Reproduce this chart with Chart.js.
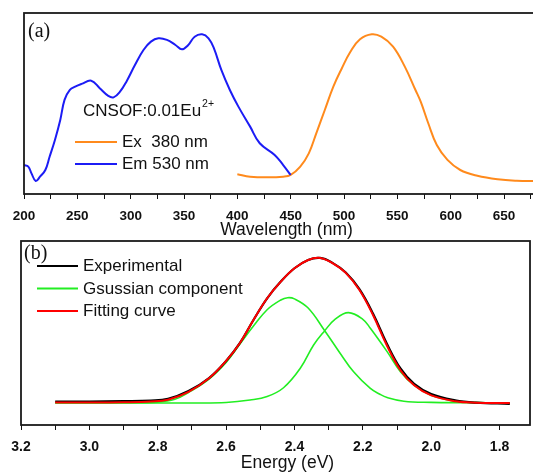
<!DOCTYPE html>
<html><head><meta charset="utf-8">
<script src="https://cdn.jsdelivr.net/npm/chart.js@4.4.1/dist/chart.umd.min.js"></script>
<style>
html,body{margin:0;padding:0;background:#fff;overflow:hidden;width:533px;height:472px;}
#c1{position:absolute;left:0;top:0;}
#c2{position:absolute;left:0;top:240px;}
</style></head><body>
<canvas id="c1" width="540" height="240"></canvas>
<canvas id="c2" width="533" height="232"></canvas>
<script>
// ---------- Panel (a) data ----------
const sampleName = 'CNSOF:0.01Eu';
const sampleSup = '2+';
const exLabel = 'Ex  380 nm';
const emLabel = 'Em 530 nm';
const wavelengthTitle = 'Wavelength (nm)';
const exWavelength = [400,412,428,443,450,459,467,474,482,490,498,506,515,526,535,546,557,567,572,579,587,597,609,625,644,662,680];
const exIntensity  = [0.123,0.108,0.104,0.108,0.119,0.171,0.254,0.379,0.525,0.671,0.786,0.889,0.967,0.998,0.983,0.921,0.796,0.650,0.575,0.442,0.306,0.213,0.150,0.114,0.092,0.083,0.081];
const emWavelength = [200,204,207,211,215,220,224,229,234,238,243,248,254,263,271,279,284,290,296,304,312,319,326,334,342,348,354,360,367,373,378,385,393,401,412,421,435,443,450];
const emIntensity  = [0.181,0.171,0.129,0.081,0.108,0.150,0.233,0.338,0.463,0.588,0.650,0.671,0.688,0.708,0.661,0.613,0.604,0.639,0.702,0.806,0.900,0.952,0.973,0.963,0.931,0.904,0.931,0.983,0.998,0.973,0.911,0.775,0.650,0.546,0.421,0.317,0.244,0.181,0.119];

// ---------- Panel (b) data ----------
const expLabel = 'Experimental';
const gaussLabel = 'Gsussian component';
const fitLabel = 'Fitting curve';
const energyTitle = 'Energy (eV)';
const expEnergy    = [3.10,3.00,2.90,2.82,2.77,2.71,2.65,2.60,2.56,2.52,2.48,2.44,2.40,2.36,2.325,2.29,2.25,2.21,2.17,2.13,2.09,2.05,2.00,1.93,1.87,1.77];
const expIntensity = [0.010,0.010,0.012,0.016,0.028,0.082,0.172,0.290,0.412,0.572,0.722,0.837,0.929,0.986,1.000,0.968,0.900,0.785,0.615,0.410,0.238,0.132,0.062,0.018,0.002,-0.006];
const fitIntensity = [0.003,0.003,0.005,0.010,0.022,0.076,0.170,0.290,0.412,0.572,0.722,0.837,0.929,0.986,1.000,0.966,0.897,0.779,0.605,0.398,0.226,0.122,0.052,0.012,0.002,0.000];
const g1Energy     = [3.10,2.90,2.80,2.75,2.71,2.65,2.60,2.56,2.52,2.48,2.44,2.42,2.40,2.36,2.312,2.267,2.227,2.178,2.15,2.129,2.08,2.00,1.90,1.77];
const g1Intensity  = [0.002,0.002,0.006,0.025,0.072,0.165,0.280,0.405,0.530,0.643,0.710,0.726,0.718,0.655,0.500,0.345,0.215,0.100,0.060,0.038,0.012,0.004,0.002,0.000];
const g2Energy     = [3.10,2.70,2.60,2.53,2.48,2.432,2.383,2.344,2.312,2.28,2.242,2.20,2.178,2.129,2.09,2.051,2.002,1.934,1.865,1.77];
const g2Intensity  = [0.000,0.000,0.003,0.020,0.044,0.105,0.239,0.400,0.497,0.580,0.623,0.577,0.515,0.354,0.216,0.124,0.055,0.014,0.002,0.000];

const toPoints = (xs, ys) => xs.map((x, i) => ({x: x, y: ys[i]}));
const FONT = "'Liberation Sans', Arial, sans-serif";
Chart.defaults.font.family = FONT;
Chart.defaults.color = '#111';

const panelDecor = {
  id: 'panelDecor',
  afterDraw(chart, args, o) {
    const ctx = chart.ctx, a = chart.chartArea;
    ctx.save();
    ctx.lineWidth = 1.8;
    ctx.strokeStyle = '#1a1a1a';
    ctx.strokeRect(a.left, a.top, a.right - a.left, a.bottom - a.top);
    ctx.fillStyle = '#111';
    ctx.textBaseline = 'middle';
    ctx.textAlign = 'center';
    ctx.font = '17.5px ' + FONT;
    ctx.fillText(o.axisTitle, (a.left + a.right) / 2 + o.axisTitleDx, o.axisTitleY);
    ctx.textAlign = 'left';
    ctx.font = "20px 'Liberation Serif', 'Times New Roman', serif";
    ctx.fillText(o.tag, o.tagX, o.tagY);
    ctx.font = '17px ' + FONT;
    if (o.header) {
      ctx.fillText(o.header, o.headerX, o.headerY);
      const w = ctx.measureText(o.header).width;
      ctx.font = '10.5px ' + FONT;
      ctx.fillText(o.headerSup, o.headerX + w + 1, o.headerY - 7);
      ctx.font = '17px ' + FONT;
    }
    o.items.forEach((it, i) => {
      const ds = chart.data.datasets[it];
      const y = o.rowY + i * o.rowH;
      ctx.strokeStyle = ds.borderColor;
      ctx.lineWidth = 2.2;
      ctx.beginPath();
      ctx.moveTo(o.lineX0, y);
      ctx.lineTo(o.lineX1, y);
      ctx.stroke();
      ctx.fillStyle = '#111';
      ctx.fillText(ds.label, o.textX, y + 0.5);
    });
    ctx.restore();
  }
};

const lineDs = (label, pts, color, width, order) => ({
  label: label, data: pts, borderColor: color, backgroundColor: color,
  borderWidth: width, pointRadius: 0, fill: false,
  tension: 0.4, order: order
});

const xGrid = {display: true, drawOnChartArea: false, drawTicks: true, tickLength: 5, color: '#111', lineWidth: 1};

new Chart(document.getElementById('c1'), {
  type: 'line',
  data: {datasets: [
    lineDs(exLabel, toPoints(exWavelength, exIntensity), '#ff8a1c', 2, 1),
    lineDs(emLabel, toPoints(emWavelength, emIntensity), '#1c1cf5', 2, 0)
  ]},
  options: {
    responsive: false, maintainAspectRatio: false, animation: false, devicePixelRatio: 1,
    layout: {padding: {top: 13, right: 4, left: 0, bottom: 0}},
    plugins: {
      legend: {display: false}, tooltip: {enabled: false},
      panelDecor: {tag: '(a)', tagX: 28, tagY: 32,
        axisTitle: wavelengthTitle, axisTitleDx: 6.5, axisTitleY: 230,
        header: sampleName, headerSup: sampleSup, headerX: 83, headerY: 111,
        items: [0, 1], rowY: 142, rowH: 22, lineX0: 75, lineX1: 117, textX: 122}
    },
    scales: {
      x: {type: 'linear', min: 200, max: 680,
        afterFit(s) { s.height = 46; },
        border: {display: false}, grid: xGrid,
        ticks: {stepSize: 25, includeBounds: false, autoSkip: false, maxRotation: 0, padding: 9,
          color: '#111', font: {size: 13.5, weight: 'bold'},
          callback: v => (Math.round(v) % 50 === 0 ? String(Math.round(v)) : '')},
        title: {display: false}
      },
      y: {min: 0, max: 1.131, afterFit(s) { s.width = 24; },
        border: {display: false}, grid: {display: false}, ticks: {display: false}}
    }
  },
  plugins: [panelDecor]
});

new Chart(document.getElementById('c2'), {
  type: 'line',
  data: {datasets: [
    lineDs(expLabel, toPoints(expEnergy, expIntensity), '#000000', 2.2, 1),
    lineDs(gaussLabel, toPoints(g1Energy, g1Intensity), '#22ee22', 1.6, 2),
    lineDs(gaussLabel, toPoints(g2Energy, g2Intensity), '#22ee22', 1.6, 2),
    lineDs(fitLabel, toPoints(expEnergy, fitIntensity), '#ff0000', 2, 0)
  ]},
  options: {
    responsive: false, maintainAspectRatio: false, animation: false, devicePixelRatio: 1,
    layout: {padding: {top: 1, right: 3, left: 0, bottom: 0}},
    plugins: {
      legend: {display: false}, tooltip: {enabled: false},
      panelDecor: {tag: '(b)', tagX: 24, tagY: 13.5,
        axisTitle: energyTitle, axisTitleDx: 12, axisTitleY: 223,
        items: [0, 1, 3], rowY: 26, rowH: 22.5, lineX0: 37, lineX1: 78, textX: 83}
    },
    scales: {
      x: {type: 'linear', min: 1.711, max: 3.2, reverse: true,
        afterFit(s) { s.height = 47; },
        border: {display: false}, grid: xGrid,
        ticks: {stepSize: 0.1, includeBounds: false, autoSkip: false, maxRotation: 0, padding: 9,
          color: '#111', font: {size: 14, weight: 'bold'},
          callback: v => (Math.round(v * 10) % 2 === 0 ? v.toFixed(1) : '')},
        title: {display: false}
      },
      y: {min: -0.152, max: 1.117, afterFit(s) { s.width = 21; },
        border: {display: false}, grid: {display: false}, ticks: {display: false}}
    }
  },
  plugins: [panelDecor]
});
</script></body></html>
